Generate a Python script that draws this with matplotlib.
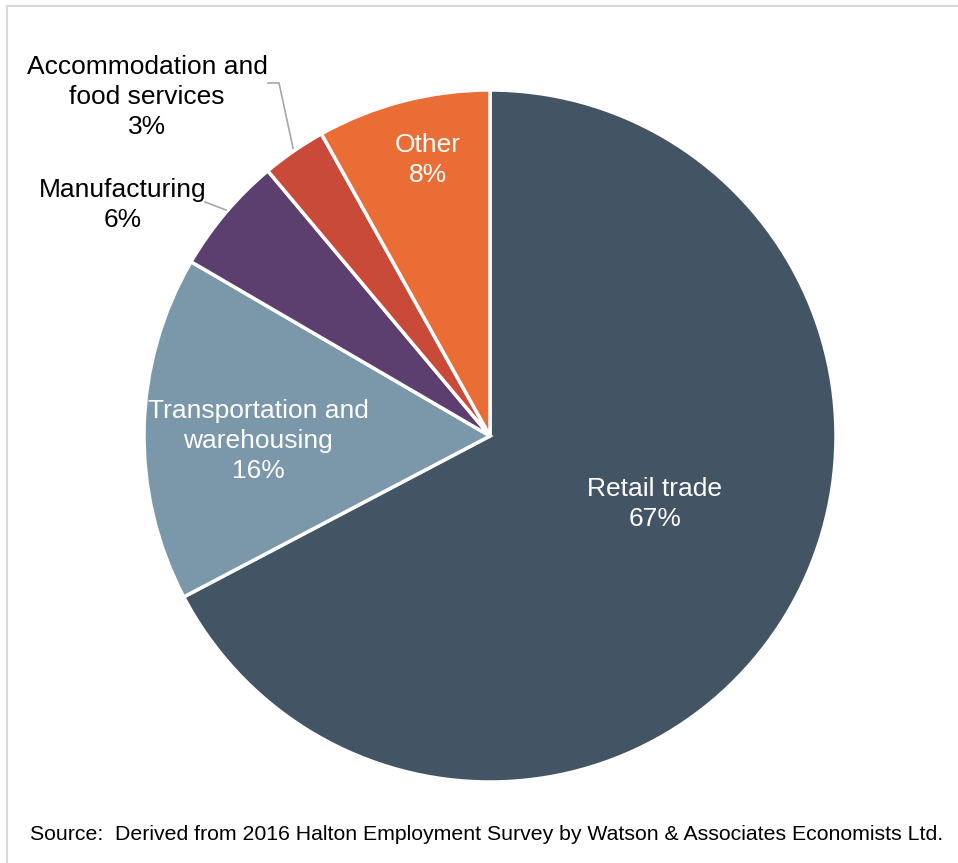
import matplotlib.pyplot as plt
from matplotlib.lines import Line2D

plt.rcParams['font.family'] = ['Liberation Sans', 'DejaVu Sans']

sectors = ['Retail trade', 'Transportation and\nwarehousing', 'Manufacturing',
           'Accommodation and\nfood services', 'Other']
shares = [67.3, 16.1, 5.5, 3.0, 8.1]
colors = ['#435464', '#7b98ab', '#5c3f6e', '#c94a38', '#ea6d35']
label_colors = ['white', 'white', 'black', 'black', 'white']

W, H = 958, 863
fig = plt.figure(figsize=(W / 100, H / 100), dpi=100)
ax = fig.add_axes([0, 0, 1, 1])

cx, cy, r = 490, H - 436, 346
ax.pie(shares, colors=colors, startangle=90, counterclock=False,
       center=(cx, cy), radius=r, frame=True,
       wedgeprops=dict(edgecolor='white', linewidth=2.5))
ax.set_xlim(0, W)
ax.set_ylim(0, H)
ax.set_aspect('equal')
ax.axis('off')

# label positions (image pixel coords)
label_pos = [(655, 504), (258, 441), (123, 205), (147, 97), (428, 160)]
for name, val, col, (x, y) in zip(sectors, shares, label_colors, label_pos):
    ax.text(x, H - y, f'{name}\n{int(val + 0.5)}%', ha='center', va='center',
            fontsize=19, color=col, linespacing=1.32)

# leader lines
ax.plot([268, 279, 293], [H - 83, H - 83, H - 148], color='#a6a6a6', lw=1.2)
ax.plot([205, 226], [H - 202, H - 210], color='#a6a6a6', lw=1.2)

ax.text(30, H - 834, 'Source:  Derived from 2016 Halton Employment Survey by '
        'Watson & Associates Economists Ltd.', ha='left', va='center',
        fontsize=15.3, color='black')

# outer frame
fig.add_artist(Line2D([7 / W, 7 / W], [0, 1 - 6 / H], transform=fig.transFigure,
                      color='#d9d9d9', lw=1.5))
fig.add_artist(Line2D([7 / W, 1], [1 - 6 / H, 1 - 6 / H], transform=fig.transFigure,
                      color='#d9d9d9', lw=1.5))

fig.savefig('out.png', dpi=100)
